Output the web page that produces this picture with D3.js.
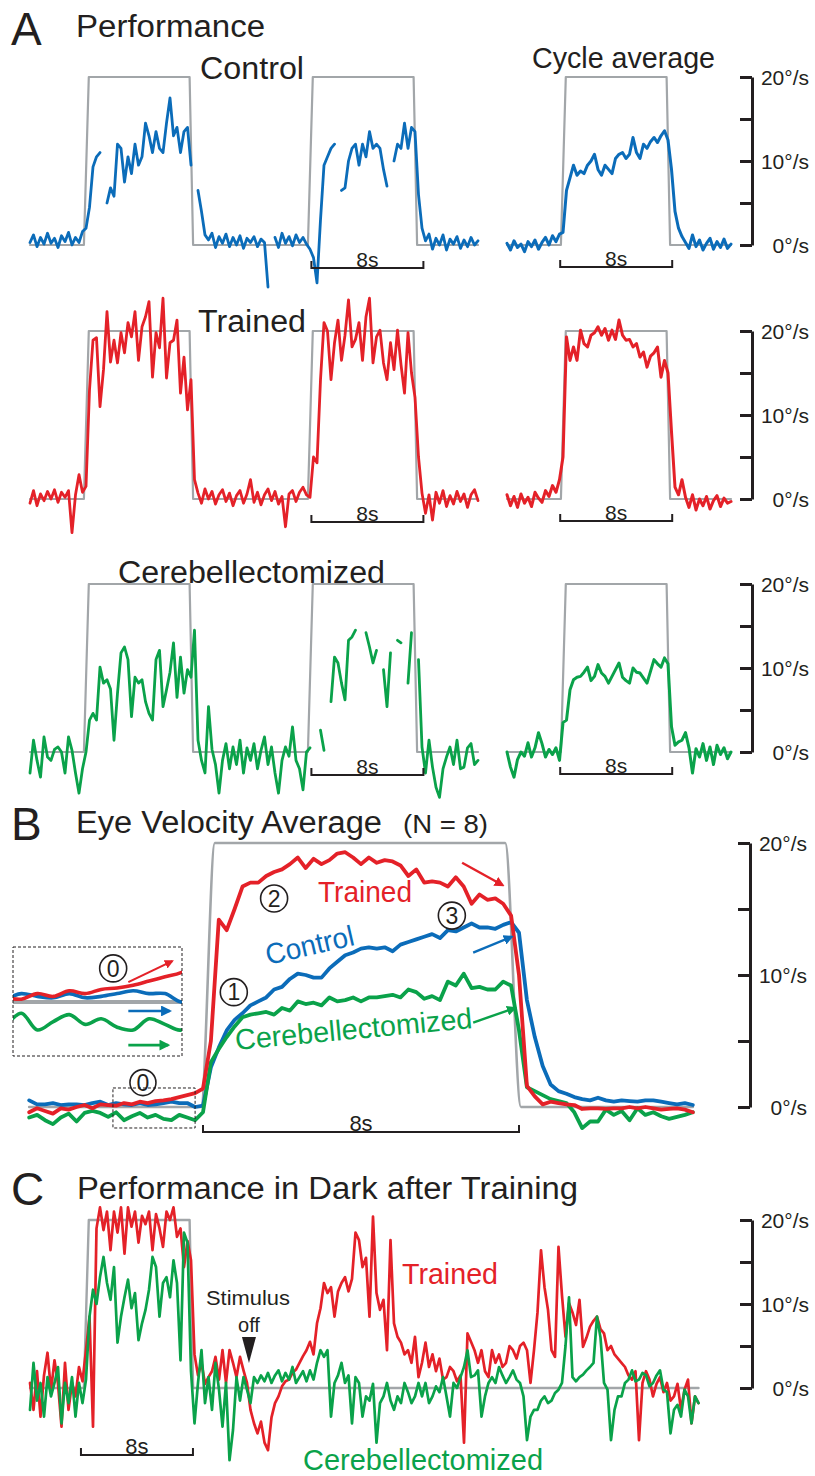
<!DOCTYPE html>
<html>
<head>
<meta charset="utf-8">
<script src="https://cdn.jsdelivr.net/npm/d3@7"></script>
<style>
  body { margin: 0; background: #fff; }
  svg { display: block; }
</style>
</head>
<body>
<svg id="fig" width="815" height="1476"></svg>
<script>
// ---------- stimulus (drum velocity, deg/s) ----------
const stimTimes = [-4, -0.15, 0.2, 7.4, 7.65, 15.85, 16.2, 23.4, 23.65, 28];
const stimValues = [0, 0, 20, 20, 0, 0, 20, 20, 0, 0];
const avgStimTimes = [-4, -0.15, 0.2, 7.4, 7.65, 12];
const avgStimValues = [0, 0, 20, 20, 0, 0];
const meanStimTimes = [-4.4, -0.05, 0.3, 7.65, 8.05, 12.4];
const meanStimValues = [0, 0, 20, 20, 0, 0];
const darkStimTimes = [-4, -0.15, 0.2, 7.4, 7.65, 43.75];
const darkStimValues = [0, 0, 20, 20, 0, 0];

// ---------- A: two raw cycles, sampled every 0.25 s from t = -4 s (null = saccade removed) ----------
const cycleStart = -4, cycleStep = 0.25;
const controlCycles = [
  0.3, 1.2, -0.2, 0.9, 0.1, 1.4, 0.2, 0.8, -0.3, 1.1, 0.4, 1.5, 0.0, 0.9, 0.3, 1.6,
  2.0, 4.5, 9.3, 10.5, 11.0, null, 5.0, 6.8, 5.8, 12.0, 11.5, 7.5, 10.5, 8.5, 12.0, 9.5,
  10.5, 14.5, 13.0, 11.0, 13.5, 11.5, 11.0, 14.5, 17.5, 13.0, 14.0, 11.0, 13.5, 14.0, 9.5, null,
  6.5, 4.0, 1.2, 0.6, 1.4, -0.3, 1.0, 0.2, 1.3, -0.2, 0.9, 0.0, 1.1, -0.4, 0.8, 0.3,
  1.0, -0.2, 0.7, 0.3, -5.0, null, 0.9, -0.3, 1.4, 0.2, 1.0, -0.1, 1.2, 0.3, 0.9, 0.1,
  -0.5, -1.5, -4.5, 3.0, 9.5, 10.5, 11.5, 12.0, null, 6.5, 6.8, 10.0, 11.5, 12.0, 9.5, 12.0,
  10.5, 13.5, 11.5, 12.0, 11.5, 9.0, 7.0, null, 10.0, 12.0, 11.5, 14.5, 11.5, 14.0, 13.5, 6.0,
  2.0, 0.5, 1.3, -0.5, 0.8, 0.0, 1.2, -0.6, 0.7, 0.1, 1.0, -0.4, 0.6, -0.2, 0.9, 0.0,
  0.5
];
const trainedCycles = [
  -0.5, 1.0, -0.8, 0.6, -0.2, 0.9, 0.0, 1.1, -0.4, 0.8, 0.2, 1.0, -4.0, 0.5, 2.9, 0.8,
  1.5, 13.0, 18.9, 19.2, 11.0, 15.4, 22.3, 16.3, 18.9, 16.2, 19.8, 17.4, 21.0, 19.3, 22.3, 16.5,
  20.5, 21.7, 23.5, 14.5, 19.8, 18.0, 23.9, 14.4, 18.6, 18.9, 21.3, 12.6, 16.9, 10.6, 14.2, 2.3,
  0.7, -0.5, 1.2, 0.0, 0.9, -0.6, 0.5, 1.1, -0.3, 0.7, -0.8, 0.4, 1.0, -0.5, 0.6, 2.3,
  -0.4, 0.8, -0.7, 0.5, 1.2, -0.2, 0.9, -0.6, 0.3, -3.3, 0.6, 1.0, -0.3, 0.8, 1.4, 0.5,
  0.2, 5.0, 4.3, 14.2, 21.0, 20.0, 14.2, 18.6, 21.3, 16.5, 19.5, 23.7, 18.1, 19.0, 21.0, 16.5,
  21.7, 23.9, 16.2, 19.3, 20.1, 16.2, 14.2, 18.6, 15.4, 20.1, 16.0, 12.6, 19.8, 15.0, 12.1, 5.0,
  0.7, -1.7, 0.5, -2.5, 0.8, -0.5, 1.0, -0.9, 0.4, -0.6, 0.9, -0.3, 0.6, -1.0, 0.5, 1.1,
  -0.2
];
const cerebCycles = [
  -2.5, 1.4, -1.0, -3.0, 1.8, -0.6, -1.0, 0.3, 0.6, 0.0, -2.5, 1.8, 0.2, -2.5, -4.9, -2.0,
  0.0, 3.8, 4.6, 3.8, 10.1, 8.2, 8.6, 7.5, 1.4, 7.0, 11.8, 12.5, 11.0, 4.2, 8.9, 8.2,
  8.6, 6.0, 4.6, 3.8, 11.0, 12.1, 5.4, 7.4, 9.5, 13.0, 6.5, 11.3, 7.0, 9.8, 8.9, 14.5,
  1.4, -1.0, -2.5, 5.4, 0.3, -1.5, -4.9, -1.0, 1.0, -2.0, 0.6, -1.5, 1.4, -2.5, 0.5, -1.0,
  1.0, -2.0, 0.2, 1.8, -1.5, 0.6, -2.5, -4.9, -1.0, 0.6, -0.5, 3.0, -1.0, -2.0, -4.5, 0.0,
  0.5, null, null, 2.6, 0.2, null, 6.0, 11.3, 10.6, 8.2, 6.2, 13.3, 13.7, 14.5, null, null,
  14.2, 12.5, 10.6, 12.1, null, 9.8, 5.4, 11.8, null, 13.3, 13.0, null, 8.2, 14.2, null, 11.0,
  0.6, -2.5, 1.4, -1.8, -4.2, -5.4, -2.0, -0.6, 0.6, -1.5, 1.4, -2.0, -1.8, 0.5, 1.0, -1.5,
  -1.0
];

// ---------- A: cycle averages, every 0.25 s from t = -4 s ----------
const controlAvg = [
  0.2, -0.6, 0.5, -0.3, 0.1, -0.8, 0.4, -0.2, 0.6, -0.5, 0.3, 0.9, 0.0, 1.1, 0.4, 1.3,
  1.5, 6.5, 8.0, 9.5, 8.3, 8.8, 8.5, 9.5, 10.0, 10.8, 9.0, 8.3, 9.5, 9.0, 8.5, 10.3,
  10.8, 11.0, 10.3, 10.8, 12.8, 11.0, 10.3, 12.0, 11.5, 12.3, 12.8, 12.2, 13.0, 13.6, 12.5, 9.0,
  4.0, 2.0, 1.0, 0.3, -0.4, 1.2, -0.2, 0.6, -0.6, 0.2, 0.8, -0.5, 0.4, -0.3, 0.7, -0.4,
  0.1
];
const trainedAvg = [
  0.5, -0.8, 0.3, -1.0, 0.6, -0.5, 0.2, -0.9, 0.8, 0.1, -0.4, 1.0, 0.3, 1.6, 0.8, 2.3,
  5.0, 19.3, 16.5, 18.1, 16.5, 20.1, 18.5, 18.1, 19.5, 19.8, 20.5, 19.5, 20.3, 18.9, 20.1, 19.0,
  21.3, 19.5, 18.9, 19.0, 18.1, 18.5, 16.9, 17.5, 15.7, 17.0, 17.4, 18.1, 14.5, 16.5, 15.0, 8.0,
  1.4, 0.5, 2.3, 0.2, -1.0, 0.5, -1.3, 0.0, -0.8, 0.3, -1.2, -0.2, 0.4, -0.9, 0.1, -0.5,
  -0.3
];
const cerebAvg = [
  0.0, -1.8, -3.0, -0.9, 0.0, -0.5, 1.1, -0.6, 0.5, 2.3, 1.0, -0.6, 0.3, -0.3, 0.5, -1.0,
  3.5, 3.8, 7.4, 8.6, 8.9, 9.0, 9.5, 10.1, 8.5, 9.0, 10.4, 9.4, 9.0, 8.2, 9.0, 9.8,
  10.6, 8.9, 8.5, 8.2, 10.0, 9.5, 9.4, 8.8, 8.2, 9.6, 11.0, 10.5, 10.1, 11.2, 10.5, 3.0,
  0.8, 1.2, 1.4, 2.3, 0.5, -2.5, 0.4, -0.6, 1.0, -1.0, 0.6, -1.5, 0.8, -0.3, 0.5, -0.8,
  0.0
];

// ---------- B: group means (N = 8), every 0.2 s from t = -4.4 s ----------
const meanStart = -4.4, meanStep = 0.2;
const meanTrained = [
  -0.4, -0.1, -0.3, -0.5, -0.1, -0.2, 0.0, 0.15, -0.1, 0.2,
  0.15, 0.1, 0.3, 0.2, 0.4, 0.3, 0.45, 0.5, 0.6, 0.75,
  0.9, 1.05, 1.4, 5.0, 14.2, 13.4, 15.0, 16.7, 17.0, 17.0,
  17.5, 17.8, 18.0, 18.4, 18.9, 18.1, 18.8, 18.4, 18.7, 19.2,
  19.3, 18.9, 18.4, 18.9, 18.5, 18.7, 18.6, 18.3, 17.5, 18.0,
  17.0, 17.1, 17.0, 16.7, 17.4, 16.7, 15.4, 16.1, 15.7, 15.8,
  15.4, 14.5, 10.0, 1.6, 0.8, 0.2, 0.4, 0.3, 0.2, 0.15,
  -0.15, -0.1, -0.1, -0.15, -0.1, -0.1, 0.0, -0.1, 0.0, -0.1,
  -0.2, -0.15, -0.1, -0.2, -0.4
];
const meanControl = [
  0.5, 0.2, 0.2, 0.3, 0.15, 0.2, 0.2, 0.15, 0.3, 0.4,
  0.15, 0.3, 0.2, 0.15, 0.3, 0.15, 0.2, 0.3, 0.4, 0.3,
  0.3, 0.0, 0.1, 3.0, 4.5, 5.8, 6.6, 7.1, 7.7, 8.0,
  8.3, 8.9, 9.1, 9.7, 10.1, 10.0, 9.8, 9.8, 10.5, 11.0,
  11.5, 11.7, 12.0, 12.1, 12.0, 12.1, 11.8, 12.3, 12.5, 12.7,
  12.9, 13.1, 12.8, 13.4, 13.3, 13.6, 13.9, 13.6, 13.6, 13.5,
  13.8, 14.0, 13.2, 8.1, 5.3, 3.1, 1.7, 1.2, 1.0, 0.75,
  0.6, 0.5, 0.7, 0.5, 0.4, 0.5, 0.45, 0.4, 0.5, 0.5,
  0.4, 0.3, 0.2, 0.3, 0.15
];
const meanCereb = [
  -0.8, -0.6, -1.0, -1.3, -0.8, -0.5, -1.1, -0.45, -0.3, -0.45,
  -0.75, -0.4, -1.0, -0.7, -0.45, -0.8, -0.6, -0.9, -1.0, -0.6,
  -0.8, -1.0, -0.4, 3.4, 4.4, 5.3, 6.1, 6.8, 7.0, 7.1,
  7.2, 7.0, 7.5, 7.3, 8.0, 7.8, 7.9, 7.7, 8.3, 8.0,
  8.1, 8.3, 8.0, 8.3, 8.3, 8.4, 8.5, 8.3, 8.9, 8.7,
  8.2, 8.4, 8.1, 9.5, 9.2, 10.1, 9.0, 9.1, 8.9, 8.9,
  9.5, 9.2, 5.8, 1.5, 1.2, 0.9, 0.6, 0.45, 0.3, -0.4,
  -1.6, -1.1, -1.1, -0.2, -0.6, -0.3, -1.0, -0.1, -0.6, -0.4,
  -0.7, -0.9, -0.75, -0.6, -0.4
];

// ---------- C: one cycle then darkness, every 0.25 s from t = -4 s ----------
const darkStart = -4, darkStep = 0.25;
const darkTrained = [
  0.6, -2.6, 2.0, -3.4, 1.5, 4.2, -0.3, 3.3, 0.5, -4.6, 3.0, -2.6, 0.6, -1.0, 2.5, 0.8,
  4.5, 8.5, -4.6, 19.0, 21.5, 18.8, 21.0, 16.4, 21.0, 18.5, 21.5, 16.0, 21.5, 19.2, 21.0, 17.3,
  20.5, 19.5, 21.0, 16.4, 20.7, 19.0, 16.8, 21.0, 20.0, 21.5, 18.0, 19.0, 14.4, 17.5, 15.2, 4.0,
  1.5, 3.0, 0.5, 1.3, 2.0, 3.7, 1.0, 4.5, 0.6, 4.5, 3.0, 1.3, 3.7, 2.1, 0.6, -2.6,
  -4.2, -5.4, -4.0, -6.5, -7.4, -3.5, -1.8, -1.0, 0.2, 0.8, 1.0, 1.8, 2.2, 3.0, 3.8, 4.5,
  5.5, 4.0, 7.7, 9.5, 12.5, 11.3, 12.0, 8.5, 11.5, 12.5, 13.2, 11.5, 13.0, 18.5, 17.6, 14.4,
  15.5, 8.5, 20.4, 11.3, 9.3, 10.5, 4.5, 17.6, 7.7, 6.1, 5.4, 4.0, 4.5, 3.0, 6.1, 1.3,
  3.0, 5.4, 2.5, 4.0, 2.0, 3.5, 1.0, 1.3, 2.5, 2.0, 0.8, 1.5, -6.5, 6.5, 5.5, 4.5,
  3.0, 4.5, 2.0, 1.3, 4.5, 3.0, 4.0, 2.5, 3.0, 5.0, 4.5, 3.5, 5.0, 5.4, 4.5, 0.6,
  4.5, 9.0, 16.4, 12.0, 9.3, 4.5, 3.7, 16.8, 11.0, 6.1, 10.1, 9.0, 7.5, 10.5, 4.9, 6.0,
  7.3, 8.0, 8.5, 7.0, 6.5, 4.5, 5.0, 4.0, 3.5, 3.0, 2.5, 1.5, 1.0, 2.0, -6.2, 0.6,
  2.0, 1.0, -1.0, 0.5, 1.3, -0.5, 0.6, -1.5, -1.0, 0.5, -2.6, -0.2, 1.0, -4.2, -1.0, -1.8
];
const darkCereb = [
  -2.6, 3.0, -1.5, 0.6, -3.4, 1.3, -1.0, 0.6, 2.5, -4.2, 0.6, -1.8, 1.3, -3.4, 0.6, -1.8,
  1.0, 8.5, 11.7, 10.0, 13.2, 15.6, 12.5, 10.5, 14.4, 5.4, 8.5, 10.8, 12.9, 9.5, 11.3, 5.7,
  7.7, 9.3, 11.7, 15.6, 14.4, 8.5, 12.5, 13.2, 10.8, 15.2, 12.5, 3.3, 18.5, 17.3, 2.0, -4.2,
  0.6, 4.5, -1.8, 1.3, -2.6, 3.0, -0.2, -4.6, 0.6, -8.6, -5.0, 1.3, -1.5, 1.3, -0.2, -1.8,
  1.3, 0.6, 1.5, 0.8, 1.8, 0.6, 1.5, 2.1, 0.8, 1.8, 1.0, 2.5, 0.6, 1.3, 2.0, 0.8,
  2.1, 1.0, 3.0, 4.5, 3.7, 4.5, -3.4, 0.6, 1.5, 3.0, 0.6, 1.5, -4.2, 1.3, 0.6, -3.4,
  -1.0, -1.5, 0.5, -6.5, -1.8, -1.0, 0.6, -1.5, -2.6, -1.0, -1.8, 0.6, -0.5, -1.8, -1.0, 0.6,
  -1.0, 0.6, -1.8, -1.0, 0.2, -0.5, 1.3, -1.0, -3.4, 0.6, 0.0, 1.3, 2.5, 4.5, 1.3, 1.5,
  2.1, -3.4, -1.0, 0.6, 1.3, 0.6, 2.5, 1.5, 0.6, 1.3, 2.1, 1.0, 0.6, -1.0, -6.2, -3.4,
  -2.6, -2.6, -1.5, -1.0, -1.8, -1.5, -0.6, -0.2, 0.6, 5.0, 10.8, 1.3, 0.8, 1.3, 1.6, 2.1,
  2.5, 3.0, 8.5, 6.0, 0.6, -0.2, -6.2, -2.6, -1.0, -1.0, 0.6, 1.0, 2.1, 0.8, 1.0, 1.8,
  1.5, 0.2, 0.6, 1.5, 2.1, -0.2, -0.5, -5.4, -2.6, -2.0, -3.4, -0.2, -1.0, -4.2, -1.0, -1.8
];
const stimulusOffTime = 11.64;

// ---------- axis ticks ----------
const yTicks = [0, 5, 10, 15, 20];
const yTickLabels = ["0°/s", "", "10°/s", "", "20°/s"];

// ---------- drawing ----------
const FONT = '"Liberation Sans", Arial, Helvetica, sans-serif';
const INK = "#231f20";
const GRAY = "#a2a6a9";
const BLUE = "#0b6cb9", RED = "#e42128", GREEN = "#0aa24a";

const svg = d3.select("#fig").attr("font-family", FONT);
svg.append("rect").attr("width", 815).attr("height", 1476).attr("fill", "#fff");

const asSeries = (vals, start, step) => vals.map((v, i) => ({ t: start + i * step, v }));
const asStim = (times, vals) => times.map((t, i) => ({ t, v: vals[i] }));

function traceLine(x, y, curve) {
  return d3.line().defined(d => d.v !== null).x(d => x(d.t)).y(d => y(d.v)).curve(curve || d3.curveLinear);
}

function drawPath(g, data, gen, color, width) {
  return g.append("path").datum(data).attr("d", gen).attr("fill", "none")
    .attr("stroke", color).attr("stroke-width", width)
    .attr("stroke-linejoin", "round").attr("stroke-linecap", "round");
}

function velocityAxis(y, xPos) {
  const axis = d3.axisRight(y).tickValues(yTicks).tickSize(-12).tickSizeOuter(0)
    .tickFormat((d, i) => yTickLabels[i]);
  const a = svg.append("g").attr("transform", `translate(${xPos},0)`).call(axis)
    .attr("font-family", FONT).attr("font-size", 21).attr("color", INK);
  a.select(".domain").attr("stroke-width", 3);
  a.selectAll(".tick line").attr("stroke-width", 3);
  a.selectAll(".tick text").attr("x", 57).attr("dy", "0.36em").attr("text-anchor", "end");
}

function timeBar(x, t0, t1, yPix, size) {
  const g = svg.append("g").attr("stroke", INK).attr("stroke-width", 2).attr("fill", "none");
  g.append("path").attr("d", `M${x(t0)},${yPix - 7}V${yPix}H${x(t1)}V${yPix - 7}`);
  svg.append("text").attr("x", (x(t0) + x(t1)) / 2).attr("y", yPix - 1.5)
    .attr("text-anchor", "middle").attr("font-size", size).attr("fill", INK).text("8s");
}

function label(txt, x, y, size, color, len, extra) {
  const t = svg.append("text").attr("x", x).attr("y", y).attr("font-size", size)
    .attr("fill", color || INK).text(txt);
  if (len) t.attr("textLength", len).attr("lengthAdjust", "spacingAndGlyphs");
  if (extra) extra(t);
  return t;
}

// ===== Panel A =====
label("A", 11, 45, 46, INK);
label("Performance", 76, 37, 31, INK, 189);
label("Cycle average", 532, 68, 29, INK, 183);

const xCycles = d3.scaleLinear().domain([0, 8]).range([86, 198]);
const xAvg = d3.scaleLinear().domain([0, 8]).range([563, 675]);

const rowsA = [
  { name: "Control", lx: 200, ly: 79, lw: 104, zero: 245, color: BLUE, cycles: controlCycles, avg: controlAvg },
  { name: "Trained", lx: 198, ly: 332, lw: 108, zero: 499, color: RED, cycles: trainedCycles, avg: trainedAvg },
  { name: "Cerebellectomized", lx: 118, ly: 583, lw: 267, zero: 752, color: GREEN, cycles: cerebCycles, avg: cerebAvg }
];

rowsA.forEach(r => {
  const y = d3.scaleLinear().domain([0, 20]).range([r.zero, r.zero - 168]);
  const g = svg.append("g");
  drawPath(g, asStim(stimTimes, stimValues), traceLine(xCycles, y), GRAY, 2.2);
  drawPath(g, asStim(avgStimTimes, avgStimValues), traceLine(xAvg, y), GRAY, 2.2);
  drawPath(g, asSeries(r.cycles, cycleStart, cycleStep), traceLine(xCycles, y), r.color, 2.8);
  drawPath(g, asSeries(r.avg, cycleStart, cycleStep), traceLine(xAvg, y), r.color, 3.0);
  label(r.name, r.lx, r.ly, 31, INK, r.lw);
  velocityAxis(y, 752);
  timeBar(xCycles, 16.1, 24.1, r.zero + 23, 21);
  timeBar(xAvg, -0.2, 7.8, r.zero + 22, 21);
});

// ===== Panel B =====
label("B", 11, 840, 46, INK);
label("Eye Velocity Average", 76, 833, 31, INK, 306);
label("(N = 8)", 403, 833, 26, INK, 85);

const xB = d3.scaleLinear().domain([0, 8]).range([203, 519]);
const yB = d3.scaleLinear().domain([0, 20]).range([1107, 843]);
const gB = svg.append("g");
drawPath(gB, asStim(meanStimTimes, meanStimValues), traceLine(xB, yB, d3.curveMonotoneX), GRAY, 2.6);
const meanSets = [
  { vals: meanControl, color: BLUE },
  { vals: meanCereb, color: GREEN },
  { vals: meanTrained, color: RED }
];
meanSets.forEach(s => drawPath(gB, asSeries(s.vals, meanStart, meanStep), traceLine(xB, yB), s.color, 3.8));
velocityAxis(yB, 750);
timeBar(xB, 0, 8, 1132, 22);

// arrow heads
const defs = svg.append("defs");
[["red", RED], ["blue", BLUE], ["green", GREEN]].forEach(([id, c]) => {
  defs.append("marker").attr("id", "head-" + id).attr("viewBox", "0 0 10 10")
    .attr("refX", 8).attr("refY", 5).attr("markerWidth", 4.2).attr("markerHeight", 4.2)
    .attr("orient", "auto").append("path").attr("d", "M0,0L10,5L0,10z").attr("fill", c);
});
function arrow(x, y, from, to, id, color, w) {
  svg.append("line").attr("x1", x(from[0])).attr("y1", y(from[1]))
    .attr("x2", x(to[0])).attr("y2", y(to[1])).attr("stroke", color)
    .attr("stroke-width", w || 2.4).attr("marker-end", `url(#head-${id})`);
}
function circled(cx, cy, digit, r) {
  svg.append("circle").attr("cx", cx).attr("cy", cy).attr("r", r || 13.5)
    .attr("fill", "none").attr("stroke", INK).attr("stroke-width", 1.6);
  svg.append("text").attr("x", cx).attr("y", cy).attr("dy", "0.36em").attr("text-anchor", "middle")
    .attr("font-size", 23).attr("fill", INK).text(digit);
}

arrow(xB, yB, [6.56, 18.5], [7.59, 16.8], "red", RED);
arrow(xB, yB, [6.84, 11.7], [7.82, 12.9], "blue", BLUE);
arrow(xB, yB, [6.84, 6.4], [7.9, 7.5], "green", GREEN);

label("Trained", 318, 902, 30, RED, 94);
label("Control", 268, 965, 29, BLUE, 90, t => t.attr("transform", "rotate(-13 268 965)"));
label("Cerebellectomized", 236, 1050, 29, GREEN, 238, t => t.attr("transform", "rotate(-5.3 236 1050)"));

circled(xB(1.8), yB(15.8), "2");
circled(xB(6.3), yB(14.5), "3");
circled(xB(0.78), yB(8.7), "1");
circled(xB(-1.52), yB(1.85), "0", 13);

// magnified pre-stimulus window
const boxT = [-2.28, -0.2], boxV = [-1.59, 1.44];
svg.append("rect").attr("x", xB(boxT[0])).attr("y", yB(boxV[1]))
  .attr("width", xB(boxT[1]) - xB(boxT[0])).attr("height", yB(boxV[0]) - yB(boxV[1]))
  .attr("fill", "none").attr("stroke", INK).attr("stroke-width", 1).attr("stroke-dasharray", "3,2");

const xIn = d3.scaleLinear().domain(boxT).range([15, 181]);
const yIn = d3.scaleLinear().domain([0, 1]).range([1002, 974]);
svg.append("clipPath").attr("id", "inset-clip").append("rect")
  .attr("x", 13).attr("y", 947).attr("width", 169).attr("height", 109);
const gIn = svg.append("g").attr("clip-path", "url(#inset-clip)");
const inWindow = d => d.t >= boxT[0] - 0.4 && d.t <= boxT[1] + 0.4;
drawPath(gIn, asStim(meanStimTimes, meanStimValues).filter(d => d.t < 0).concat([{ t: 0, v: 0 }]),
  traceLine(xIn, yIn), GRAY, 4);
meanSets.forEach(s => drawPath(gIn, asSeries(s.vals, meanStart, meanStep).filter(inWindow),
  traceLine(xIn, yIn, d3.curveCatmullRom), s.color, 3.6));
svg.append("rect").attr("x", 13).attr("y", 947).attr("width", 169).attr("height", 109)
  .attr("fill", "none").attr("stroke", INK).attr("stroke-width", 1).attr("stroke-dasharray", "3,2");
arrow(xIn, yIn, [-0.86, 0.71], [-0.31, 1.46], "red", RED, 2.2);
arrow(xIn, yIn, [-0.86, -0.32], [-0.34, -0.32], "blue", BLUE, 2.6);
arrow(xIn, yIn, [-0.86, -1.54], [-0.36, -1.54], "green", GREEN, 2.6);
circled(xIn(-1.05), yIn(1.2), "0", 13.5);

// ===== Panel C =====
label("C", 11, 1205, 46, INK);
label("Performance in Dark after Training", 77, 1199, 31, INK, 501);

const xC = d3.scaleLinear().domain([0, 8]).range([86, 198]);
const yC = d3.scaleLinear().domain([0, 20]).range([1388, 1220]);
const gC = svg.append("g");
drawPath(gC, asStim(darkStimTimes, darkStimValues), traceLine(xC, yC), GRAY, 2.4);
drawPath(gC, asSeries(darkTrained, darkStart, darkStep), traceLine(xC, yC), RED, 2.7);
drawPath(gC, asSeries(darkCereb, darkStart, darkStep), traceLine(xC, yC), GREEN, 2.7);
velocityAxis(yC, 752);
timeBar(xC, -0.36, 7.64, 1455, 22);

label("Trained", 402, 1284, 29, RED, 96);
label("Cerebellectomized", 303, 1470, 29, GREEN, 240);
const sx = xC(stimulusOffTime);
svg.append("text").attr("x", sx - 1).attr("y", 1305).attr("text-anchor", "middle")
  .attr("font-size", 20).attr("fill", INK).attr("textLength", 84).attr("lengthAdjust", "spacingAndGlyphs").text("Stimulus");
svg.append("text").attr("x", sx).attr("y", 1332).attr("text-anchor", "middle")
  .attr("font-size", 20).attr("fill", INK).text("off");
svg.append("path").attr("d", `M${sx - 7},1337L${sx + 7},1337L${sx},1363Z`).attr("fill", INK);
</script>
</body>
</html>
